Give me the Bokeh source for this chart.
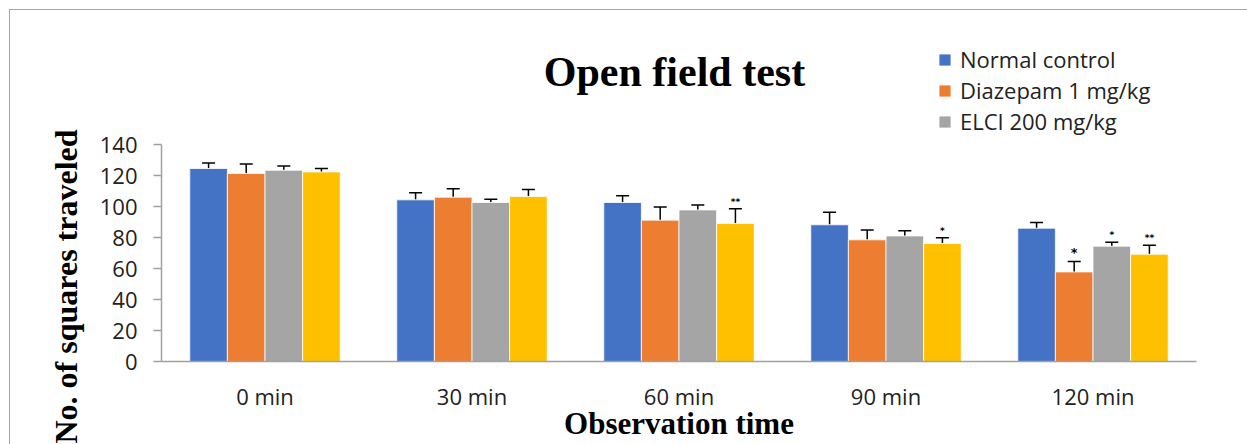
import numpy as np
from bokeh.plotting import figure
from bokeh.models import (ColumnDataSource, FactorRange, Range1d, Whisker, TeeHead,
                          Legend, LegendItem, Label, Title, FixedTicker)
from bokeh.transform import dodge
from bokeh.core.properties import value
from bokeh.embed import file_html
from bokeh.resources import INLINE

# ---- data ----
times = ["0 min", "30 min", "60 min", "90 min", "120 min"]
series_names = ["Normal control", "Diazepam 1 mg/kg", "ELCI 200 mg/kg", "Group 4"]
normal = [124.5, 104.3, 102.6, 88.2, 86.0]
normal_err = [3.5, 4.5, 4.3, 8.1, 3.7]
diazepam = [121.3, 106.0, 91.2, 78.5, 57.8]
diazepam_err = [6.2, 5.4, 8.4, 6.4, 6.7]
elci200 = [123.4, 102.6, 97.8, 81.0, 74.4]
elci200_err = [2.8, 2.1, 3.2, 3.3, 2.6]
group4 = [122.3, 106.5, 89.0, 76.1, 69.2]
group4_err = [2.2, 4.5, 9.5, 3.7, 5.8]
y_ticks = [0, 20, 40, 60, 80, 100, 120, 140]

# significance marks
sig_time = ["60 min", "90 min", "120 min", "120 min", "120 min"]
sig_series = [3, 3, 1, 2, 3]
sig_text = ["**", "*", "*", "*", "**"]

colors = ["#4472C4", "#ED7D31", "#A5A5A5", "#FFC000"]
means = [normal, diazepam, elci200, group4]
errs = [normal_err, diazepam_err, elci200_err, group4_err]

p = figure(width=1247, height=444, x_range=FactorRange(*times, range_padding=0),
           y_range=Range1d(0, 361 / 1.55), output_backend="svg", toolbar_location=None,
           min_border_left=161, min_border_right=51, min_border_top=0,
           min_border_bottom=83)
# thin grey chart-area border (left and top edges only visible)
p.styles = {"box-shadow": "inset 9px 9px 0 0 white, inset 10px 10px 0 0 #A6A6A6"}
p.border_fill_color = None
p.background_fill_color = None
p.outline_line_color = None
p.xgrid.visible = False
p.ygrid.visible = False

axis_gray = "#A0A0A0"
p.xaxis.axis_line_color = axis_gray
p.xaxis.axis_line_width = 1.5
p.xaxis.major_tick_line_color = None
p.xaxis.minor_tick_line_color = None
p.xaxis.major_label_text_font = "Open Sans"
p.xaxis.major_label_text_font_size = "22px"
p.xaxis.major_label_text_color = "#222222"
p.xaxis.major_label_standoff = 13
p.xaxis.axis_label = "Observation time"
p.xaxis.axis_label_text_font = "Liberation Serif"
p.xaxis.axis_label_text_font_style = "bold"
p.xaxis.axis_label_text_font_size = "31px"
p.xaxis.axis_label_text_color = "black"
p.xaxis.axis_label_standoff = -8

p.yaxis.ticker = FixedTicker(ticks=y_ticks)
p.yaxis.bounds = (0, 140)
p.yaxis.axis_line_color = axis_gray
p.yaxis.axis_line_width = 1.5
p.yaxis.major_tick_line_color = axis_gray
p.yaxis.major_tick_line_width = 1.5
p.yaxis.major_tick_out = 8
p.yaxis.major_tick_in = 0
p.yaxis.minor_tick_line_color = None
p.yaxis.major_label_text_font = "Open Sans"
p.yaxis.major_label_text_font_size = "22px"
p.yaxis.major_label_text_color = "#222222"
p.yaxis.major_label_standoff = 16

bw = 0.1817
offsets = [-1.5 * bw, -0.5 * bw, 0.5 * bw, 1.5 * bw]

renderers = []
for i in range(4):
    m = means[i]
    e = errs[i]
    src = ColumnDataSource(dict(time=times, mean=m,
                                upper=[a + b for a, b in zip(m, e)]))
    r = p.vbar(x=dodge("time", offsets[i], range=p.x_range), top="mean", width=bw,
               source=src, fill_color=colors[i], line_color="white", line_width=0.8)
    renderers.append(r)
    w = Whisker(source=src, base=dodge("time", offsets[i], range=p.x_range),
                upper="upper", lower="mean",
                upper_head=TeeHead(size=13, line_color="black", line_width=1.5),
                lower_head=None, line_color="black", line_width=1.5)
    p.add_layout(w)

# significance marks
for s in range(4):
    xs, ys, ts = [], [], []
    for t, si, tx in zip(sig_time, sig_series, sig_text):
        if si == s:
            k = times.index(t)
            xs.append(t)
            ys.append(means[s][k] + errs[s][k])
            ts.append(tx)
    if xs:
        ssrc = ColumnDataSource(dict(time=xs, y=ys, text=ts))
        p.text(x=dodge("time", offsets[s], range=p.x_range), y="y", text="text",
               source=ssrc, text_align="center", text_baseline="bottom",
               y_offset=-2, text_font=value("DejaVu Sans"),
               text_font_size="13px" if s == 1 else "9px",
               text_font_style="bold", text_color="black")

legend = Legend(items=[LegendItem(label=series_names[i], renderers=[renderers[i]]) for i in range(3)],
                location=(776, 225), glyph_width=15, glyph_height=15, label_standoff=8,
                spacing=1, padding=0, margin=0, border_line_color=None,
                background_fill_alpha=0, label_text_font="Open Sans",
                label_text_font_size="22px", label_height=20, label_text_color="#222222")
p.add_layout(legend)

p.add_layout(Label(x=513, y=290, x_units="screen", y_units="screen", text="Open field test",
                   text_font="Liberation Serif", text_font_style="bold", text_color="black",
                   text_font_size="42px", text_align="center", text_baseline="alphabetic"))

p.add_layout(Title(text="No. of squares traveled", align="left", offset=-82, standoff=26,
                   text_font="Liberation Serif", text_font_style="bold",
                   text_font_size="32px", text_color="black"), "left")

open("out.html", "w").write(file_html(p, INLINE))
